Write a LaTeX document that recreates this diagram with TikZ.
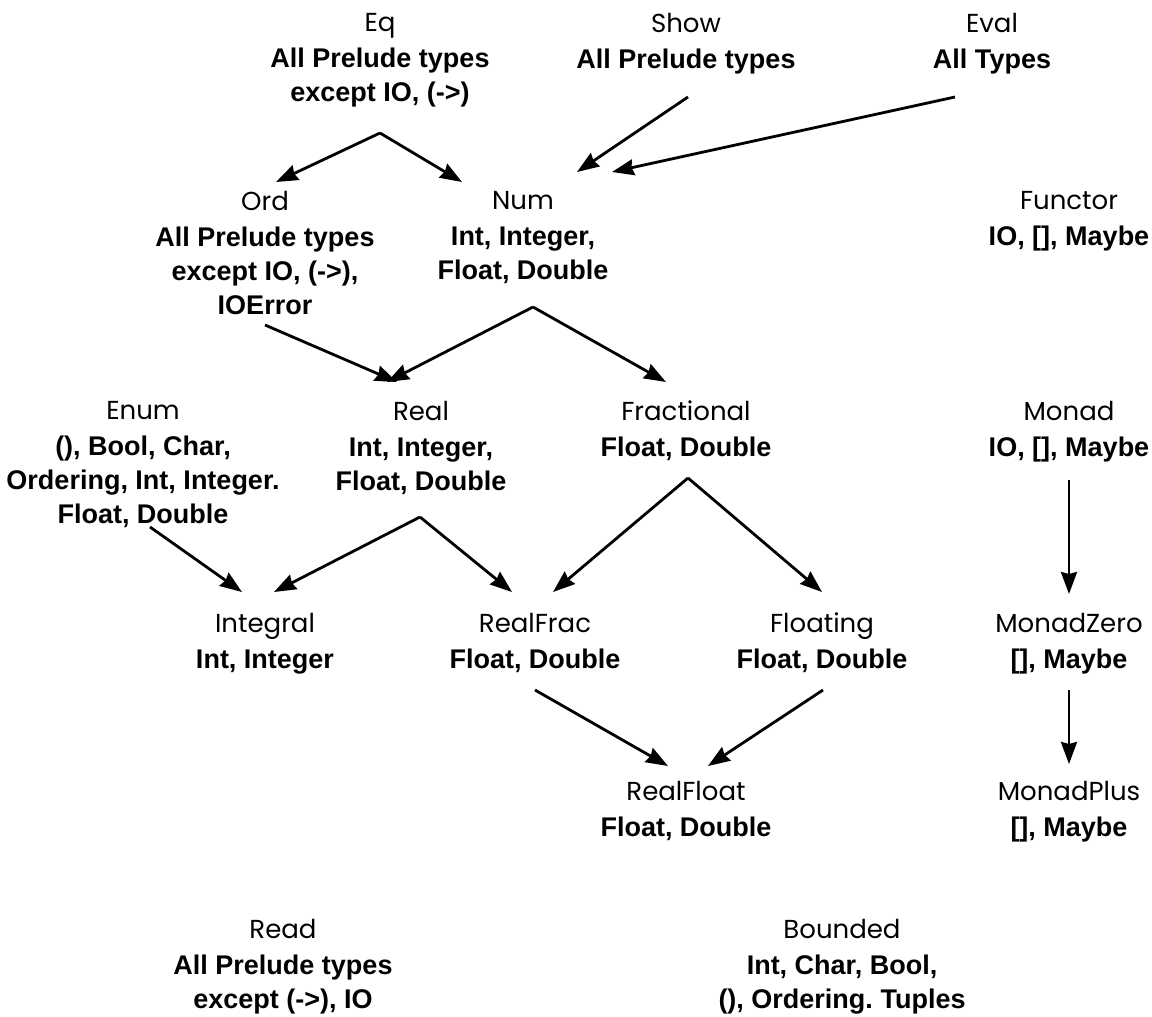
\documentclass[tikz,border=0pt]{standalone}
\usepackage{fontspec}
\setmainfont{Liberation Sans}
\newfontfamily\titlefont{Poppins}
\usetikzlibrary{arrows.meta}
\frenchspacing
\begin{document}
\begin{tikzpicture}[x=1pt,y=-1pt,
  cls/.style={anchor=north,inner sep=0pt,align=center,font=\fontsize{27}{34}\selectfont\bfseries},
  arr/.style={line width=2.8pt,-{Stealth[inset=2pt,length=22pt,width=16pt]}}]
\newcommand{\ctitle}[1]{{\fontsize{26}{34}\selectfont\mdseries\titlefont #1}}
\useasboundingbox (0,0) rectangle (1152,1017);
% nodes
\node[cls] (Eq) at (380,13) {\ctitle{Eq}\\[2pt]All Prelude types\\except IO, (->)};
\node[cls] (Show) at (686,13) {\ctitle{Show}\\[2pt]All Prelude types};
\node[cls] (Eval) at (992,13) {\ctitle{Eval}\\[2pt]All Types};
\node[cls] (Ord) at (265,191) {\ctitle{Ord}\\[2pt]All Prelude types\\except IO, (->),\\IOError};
\node[cls] (Num) at (523,191) {\ctitle{Num}\\[2pt]Int, Integer,\\Float, Double};
\node[cls] (Functor) at (1069,191) {\ctitle{Functor}\\[2pt]IO, [], Maybe};
\node[cls] (Enum) at (143,401) {\ctitle{Enum}\\[2pt](), Bool, Char,\\Ordering, Int, Integer.\\Float, Double};
\node[cls] (Real) at (421,401) {\ctitle{Real}\\[2pt]Int, Integer,\\Float, Double};
\node[cls] (Fractional) at (686,401) {\ctitle{Fractional}\\[2pt]Float, Double};
\node[cls] (Monad) at (1069,401) {\ctitle{Monad}\\[2pt]IO, [], Maybe};
\node[cls] (Integral) at (265,613) {\ctitle{Integral}\\[2pt]Int, Integer};
\node[cls] (RealFrac) at (535,613) {\ctitle{RealFrac}\\[2pt]Float, Double};
\node[cls] (Floating) at (822,613) {\ctitle{Floating}\\[2pt]Float, Double};
\node[cls] (MonadZero) at (1069,613) {\ctitle{MonadZero}\\[2pt][], Maybe};
\node[cls] (RealFloat) at (686,781) {\ctitle{RealFloat}\\[2pt]Float, Double};
\node[cls] (MonadPlus) at (1069,781) {\ctitle{MonadPlus}\\[2pt][], Maybe};
\node[cls] (Read) at (283,919) {\ctitle{Read}\\[2pt]All Prelude types\\except (->), IO};
\node[cls] (Bounded) at (842,919) {\ctitle{Bounded}\\[2pt]Int, Char, Bool,\\(), Ordering. Tuples};
% connector end points
\coordinate (EqOut) at (380,133);
\coordinate (ShowOut) at (688,97);
\coordinate (EvalOut) at (955,97);
\coordinate (OrdIn) at (276,182);
\coordinate (NumInL) at (462,182);
\coordinate (NumInR1) at (577,172);
\coordinate (NumInR2) at (612,172);
\coordinate (OrdOut) at (265,325);
\coordinate (NumOut) at (533,307);
\coordinate (RealInL) at (397,382);
\coordinate (RealInR) at (387,382);
\coordinate (FracIn) at (666,382);
\coordinate (EnumOut) at (150,527);
\coordinate (RealOut) at (420,517);
\coordinate (FracOut) at (688,478);
\coordinate (IntegralInL) at (242,592);
\coordinate (IntegralInR) at (274,592);
\coordinate (RealFracInL) at (512,592);
\coordinate (RealFracInR) at (553,592);
\coordinate (FloatingIn) at (822,592);
\coordinate (RealFracOut) at (535,690);
\coordinate (FloatingOut) at (823,690);
\coordinate (RealFloatInL) at (668,766);
\coordinate (RealFloatInR) at (708,766);
\coordinate (MonadOut) at (1069,480);
\coordinate (MonadZeroIn) at (1069,594);
\coordinate (MonadZeroOut) at (1069,690);
\coordinate (MonadPlusIn) at (1069,764);
% connectors
\draw[arr] (EqOut) -- (OrdIn);
\draw[arr] (EqOut) -- (NumInL);
\draw[arr] (ShowOut) -- (NumInR1);
\draw[arr] (EvalOut) -- (NumInR2);
\draw[arr] (OrdOut) -- (RealInL);
\draw[arr] (NumOut) -- (RealInR);
\draw[arr] (NumOut) -- (FracIn);
\draw[arr] (EnumOut) -- (IntegralInL);
\draw[arr] (RealOut) -- (IntegralInR);
\draw[arr] (RealOut) -- (RealFracInL);
\draw[arr] (FracOut) -- (RealFracInR);
\draw[arr] (FracOut) -- (FloatingIn);
\draw[arr] (RealFracOut) -- (RealFloatInL);
\draw[arr] (FloatingOut) -- (RealFloatInR);
\draw[arr] (MonadOut) -- (MonadZeroIn);
\draw[arr] (MonadZeroOut) -- (MonadPlusIn);
\end{tikzpicture}
\end{document}
